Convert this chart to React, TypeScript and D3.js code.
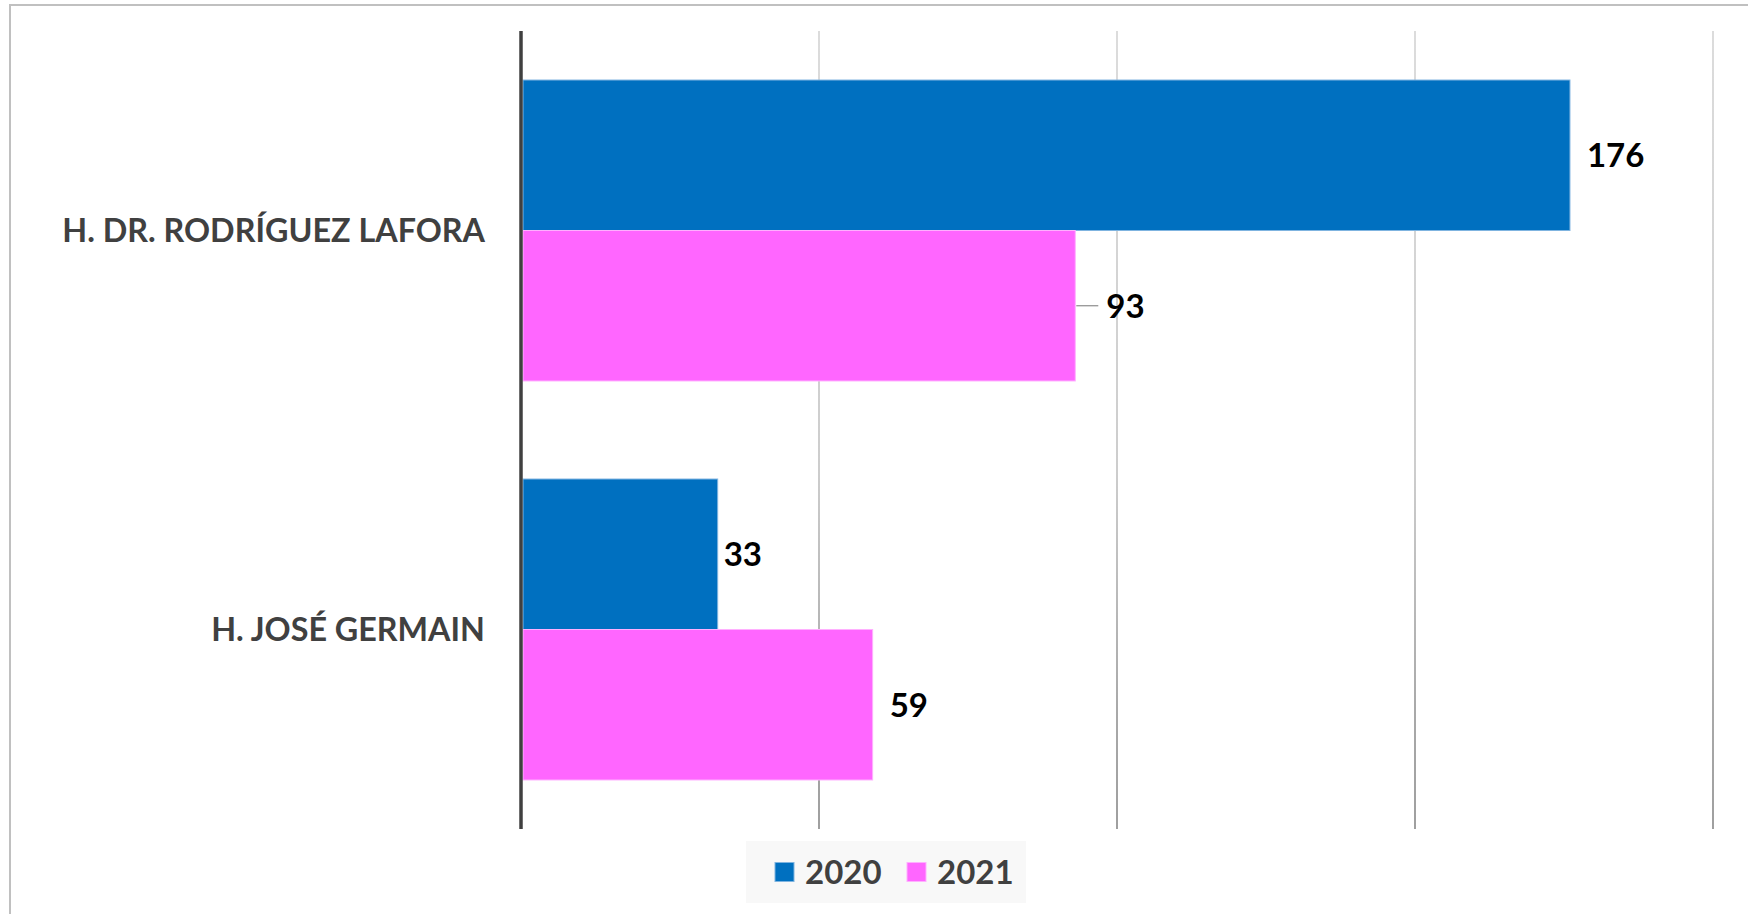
import React from "react";
import * as d3 from "d3";

// Hospital admissions by year
const categories = ["H. DR. RODRÍGUEZ LAFORA", "H. JOSÉ GERMAIN"];
const seriesNames = ["2020", "2021"];
const values2020 = [176, 33];
const values2021 = [93, 59];
const xTicks = [0, 50, 100, 150, 200];

const WIDTH = 1748;
const HEIGHT = 914;
const FONT = "Lato, 'Open Sans', sans-serif";

const colors: Record<string, { fill: string; stroke: string }> = {
  "2020": { fill: "#0070C0", stroke: "#7fb4e0" },
  "2021": { fill: "#FF66FF", stroke: "#ffb0ff" },
};

// Horizontal nudge of each value label from its bar end; the first 2021 label
// was pulled away from the bar and gets a leader line.
const labelGap: Record<string, number[]> = { "2020": [17, 6], "2021": [31, 17] };
const leader: Record<string, boolean[]> = { "2020": [false, false], "2021": [true, false] };

export default function App() {
  const plot = { left: 521, right: 1713, top: 31, bottom: 829 };

  const x = d3.scaleLinear().domain([0, 200]).range([plot.left, plot.right]);
  const gap = 0.2457;
  const y = d3
    .scaleBand<string>()
    .domain(categories)
    .range([plot.top, plot.bottom])
    .paddingInner(gap)
    .paddingOuter(gap / 2);
  const ySub = d3
    .scaleBand<string>()
    .domain(seriesNames)
    .range([0, y.bandwidth()]);

  const series: Record<string, number[]> = { "2020": values2020, "2021": values2021 };
  const fs = 33;

  return (
    <svg
      width={WIDTH}
      height={HEIGHT}
      style={{ position: "absolute", left: 0, top: 0, background: "#fff" }}
      fontFamily={FONT}
    >
      <defs>
        <linearGradient
          id="gridFade"
          gradientUnits="userSpaceOnUse"
          x1={0}
          y1={plot.top}
          x2={0}
          y2={plot.bottom}
        >
          <stop offset="0" stopColor="#dcdcdc" />
          <stop offset="0.55" stopColor="#cdcdcd" />
          <stop offset="0.85" stopColor="#a9a9a9" />
          <stop offset="1" stopColor="#9f9f9f" />
        </linearGradient>
      </defs>
      <rect x={0} y={0} width={WIDTH} height={HEIGHT} fill="#fff" />
      {/* chart frame */}
      <rect
        x={10}
        y={5}
        width={WIDTH + 20}
        height={HEIGHT + 20}
        fill="none"
        stroke="#c0c0c0"
        strokeWidth={2}
      />

      {/* vertical gridlines */}
      {xTicks
        .filter((t) => t > 0)
        .map((t) => (
          <line
            key={t}
            x1={x(t)}
            x2={x(t)}
            y1={plot.top}
            y2={plot.bottom}
            stroke="url(#gridFade)"
            strokeWidth={2}
          />
        ))}

      {/* bars */}
      {categories.map((c, i) =>
        seriesNames.map((s) => {
          const v = series[s][i];
          const y0 = (y(c) as number) + (ySub(s) as number);
          const h = ySub.bandwidth();
          return (
            <rect
              key={c + s}
              x={x(0) + 2}
              y={y0}
              width={x(v) - x(0) - 2}
              height={h}
              fill={colors[s].fill}
              stroke={colors[s].stroke}
              strokeWidth={1}
            />
          );
        })
      )}

      {/* value labels */}
      {categories.map((c, i) =>
        seriesNames.map((s) => {
          const v = series[s][i];
          const cy = (y(c) as number) + (ySub(s) as number) + ySub.bandwidth() / 2;
          const xEnd = x(v);
          const tx = xEnd + labelGap[s][i];
          return (
            <g key={"l" + c + s}>
              {leader[s][i] && (
                <line
                  x1={xEnd + 1}
                  x2={tx - 8}
                  y1={cy}
                  y2={cy}
                  stroke="#8c8c8c"
                  strokeWidth={1.2}
                />
              )}
              <text
                x={tx}
                y={cy}
                dy="0.36em"
                fontSize={fs}
                fontWeight={700}
                fill="#000"
              >
                {v}
              </text>
            </g>
          );
        })
      )}

      {/* category axis */}
      <line
        x1={plot.left}
        x2={plot.left}
        y1={plot.top}
        y2={plot.bottom}
        stroke="#404040"
        strokeWidth={3.5}
      />
      {categories.map((c) => (
        <text
          key={c}
          x={485}
          y={(y(c) as number) + y.bandwidth() / 2}
          dy="0.36em"
          textAnchor="end"
          fontSize={32.3}
          fontWeight={700}
          fill="#404040"
        >
          {c}
        </text>
      ))}

      {/* legend */}
      <g>
        <rect x={746} y={841} width={280} height={62} fill="#f8f8f8" />
        {seriesNames.map((s, k) => {
          const lx = 775 + k * 132;
          return (
            <g key={s}>
              <rect
                x={lx}
                y={862.5}
                width={19}
                height={19}
                fill={colors[s].fill}
                stroke={colors[s].stroke}
                strokeWidth={1}
              />
              <text
                x={lx + 30}
                y={872}
                dy="0.36em"
                fontSize={fs}
                fontWeight={700}
                fill="#404040"
              >
                {s}
              </text>
            </g>
          );
        })}
      </g>
    </svg>
  );
}
